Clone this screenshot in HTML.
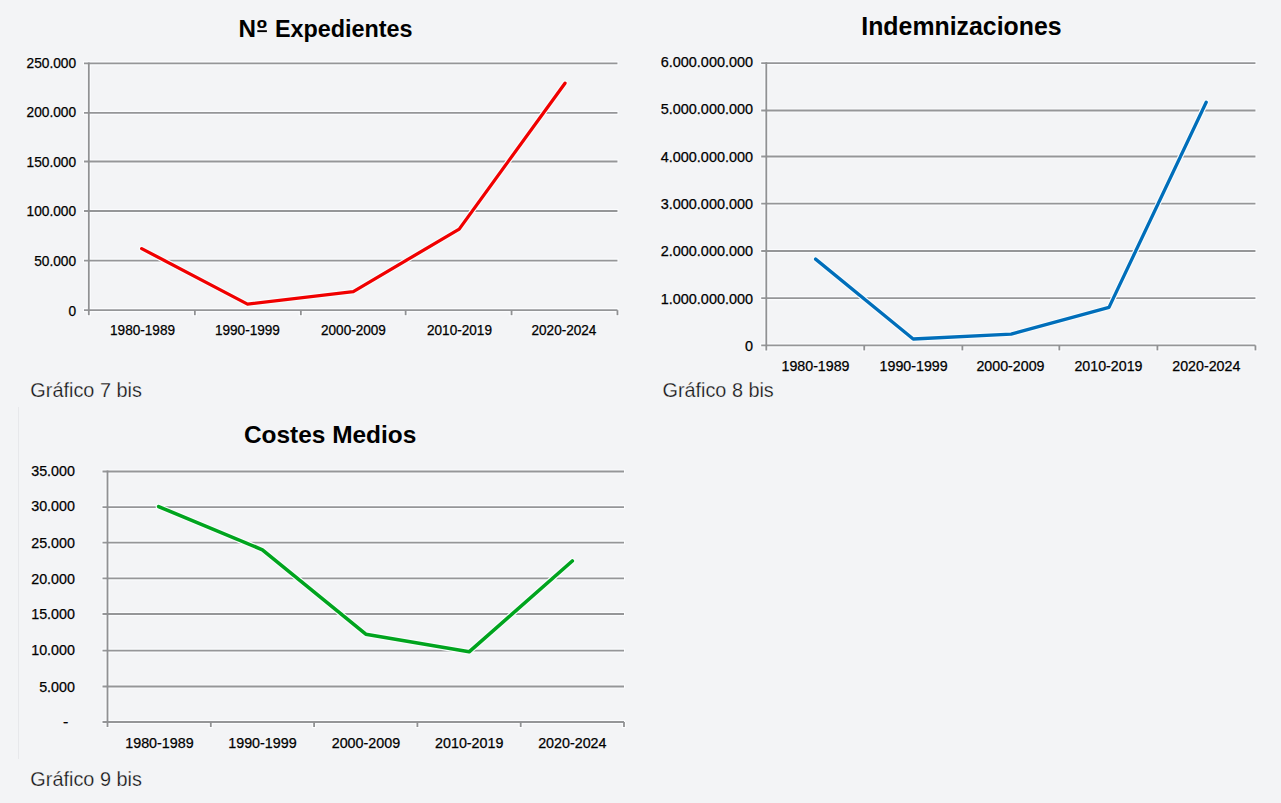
<!DOCTYPE html>
<html lang="es"><head><meta charset="utf-8"><title>Gráficos 7, 8 y 9 bis</title>
<style>
html,body{margin:0;padding:0;background:#f3f4f6;overflow:hidden}
svg{display:block;font-family:"Liberation Sans", sans-serif}
</style></head>
<body>
<svg width="1281" height="803" viewBox="0 0 1281 803">
<rect x="0" y="0" width="1281" height="803" fill="#f3f4f6"/>
<line x1="18.5" y1="407" x2="18.5" y2="759" stroke="#e7e8eb" stroke-width="1"/>
<line x1="83.00" y1="310.20" x2="618.45" y2="310.20" stroke="#fbfcfe" stroke-width="4.2"/>
<line x1="83.00" y1="260.55" x2="618.45" y2="260.55" stroke="#fbfcfe" stroke-width="4.2"/>
<line x1="83.00" y1="211.00" x2="618.45" y2="211.00" stroke="#fbfcfe" stroke-width="4.2"/>
<line x1="83.00" y1="161.50" x2="618.45" y2="161.50" stroke="#fbfcfe" stroke-width="4.2"/>
<line x1="83.00" y1="112.90" x2="618.45" y2="112.90" stroke="#fbfcfe" stroke-width="4.2"/>
<line x1="83.00" y1="63.40" x2="618.45" y2="63.40" stroke="#fbfcfe" stroke-width="4.2"/>
<line x1="88.80" y1="62.40" x2="88.80" y2="316.20" stroke="#fbfcfe" stroke-width="4.2"/>
<line x1="194.86" y1="310.20" x2="194.86" y2="316.20" stroke="#fbfcfe" stroke-width="4.2"/>
<line x1="300.86" y1="310.20" x2="300.86" y2="316.20" stroke="#fbfcfe" stroke-width="4.2"/>
<line x1="405.63" y1="310.20" x2="405.63" y2="316.20" stroke="#fbfcfe" stroke-width="4.2"/>
<line x1="511.56" y1="310.20" x2="511.56" y2="316.20" stroke="#fbfcfe" stroke-width="4.2"/>
<line x1="617.45" y1="310.20" x2="617.45" y2="316.20" stroke="#fbfcfe" stroke-width="4.2"/>
<line x1="84.00" y1="310.20" x2="617.45" y2="310.20" stroke="#959698" stroke-width="1.8"/>
<line x1="84.00" y1="260.55" x2="617.45" y2="260.55" stroke="#959698" stroke-width="1.8"/>
<line x1="84.00" y1="211.00" x2="617.45" y2="211.00" stroke="#959698" stroke-width="1.8"/>
<line x1="84.00" y1="161.50" x2="617.45" y2="161.50" stroke="#959698" stroke-width="1.8"/>
<line x1="84.00" y1="112.90" x2="617.45" y2="112.90" stroke="#959698" stroke-width="1.8"/>
<line x1="84.00" y1="63.40" x2="617.45" y2="63.40" stroke="#959698" stroke-width="1.8"/>
<text x="76.11" y="315.50" font-size="14.00" text-anchor="end" fill="#000" textLength="7.62" lengthAdjust="spacingAndGlyphs" stroke="#000" stroke-width="0.25">0</text>
<text x="76.11" y="265.85" font-size="14.00" text-anchor="end" fill="#000" textLength="41.90" lengthAdjust="spacingAndGlyphs" stroke="#000" stroke-width="0.25">50.000</text>
<text x="76.11" y="216.40" font-size="14.00" text-anchor="end" fill="#000" textLength="49.52" lengthAdjust="spacingAndGlyphs" stroke="#000" stroke-width="0.25">100.000</text>
<text x="76.11" y="166.70" font-size="14.00" text-anchor="end" fill="#000" textLength="49.52" lengthAdjust="spacingAndGlyphs" stroke="#000" stroke-width="0.25">150.000</text>
<text x="76.11" y="117.10" font-size="14.00" text-anchor="end" fill="#000" textLength="49.52" lengthAdjust="spacingAndGlyphs" stroke="#000" stroke-width="0.25">200.000</text>
<text x="76.11" y="67.70" font-size="14.00" text-anchor="end" fill="#000" textLength="49.52" lengthAdjust="spacingAndGlyphs" stroke="#000" stroke-width="0.25">250.000</text>
<line x1="88.80" y1="62.50" x2="88.80" y2="315.20" stroke="#909193" stroke-width="1.8"/>
<line x1="194.86" y1="310.20" x2="194.86" y2="315.20" stroke="#909193" stroke-width="1.8"/>
<line x1="300.86" y1="310.20" x2="300.86" y2="315.20" stroke="#909193" stroke-width="1.8"/>
<line x1="405.63" y1="310.20" x2="405.63" y2="315.20" stroke="#909193" stroke-width="1.8"/>
<line x1="511.56" y1="310.20" x2="511.56" y2="315.20" stroke="#909193" stroke-width="1.8"/>
<line x1="617.45" y1="310.20" x2="617.45" y2="315.20" stroke="#909193" stroke-width="1.8"/>
<text x="142.55" y="334.77" font-size="14.00" text-anchor="middle" fill="#000" textLength="64.95" lengthAdjust="spacingAndGlyphs" stroke="#000" stroke-width="0.25">1980-1989</text>
<text x="247.40" y="334.77" font-size="14.00" text-anchor="middle" fill="#000" textLength="64.95" lengthAdjust="spacingAndGlyphs" stroke="#000" stroke-width="0.25">1990-1999</text>
<text x="353.45" y="334.77" font-size="14.00" text-anchor="middle" fill="#000" textLength="64.95" lengthAdjust="spacingAndGlyphs" stroke="#000" stroke-width="0.25">2000-2009</text>
<text x="459.47" y="334.77" font-size="14.00" text-anchor="middle" fill="#000" textLength="64.95" lengthAdjust="spacingAndGlyphs" stroke="#000" stroke-width="0.25">2010-2019</text>
<text x="563.95" y="334.77" font-size="14.00" text-anchor="middle" fill="#000" textLength="64.95" lengthAdjust="spacingAndGlyphs" stroke="#000" stroke-width="0.25">2020-2024</text>
<polyline points="141.70,248.60 247.50,304.10 353.30,291.60 459.20,229.10 565.00,83.20" fill="none" stroke="#f9fcfd" stroke-width="5.5" stroke-linejoin="round" stroke-linecap="round"/>
<polyline points="141.70,248.60 247.50,304.10 353.30,291.60 459.20,229.10 565.00,83.20" fill="none" stroke="#f00000" stroke-width="3.3" stroke-linejoin="round" stroke-linecap="round"/>
<text x="238.60" y="36.90" font-size="24.60" font-weight="bold" fill="#000" textLength="17.50" lengthAdjust="spacingAndGlyphs">N</text>
<text x="256.85" y="36.90" font-size="24.60" font-weight="bold" fill="#000" textLength="10.17" lengthAdjust="spacingAndGlyphs">º</text>
<text x="274.91" y="36.90" font-size="24.60" font-weight="bold" fill="#000" textLength="137.69" lengthAdjust="spacingAndGlyphs">Expedientes</text>
<line x1="760.20" y1="345.40" x2="1256.45" y2="345.40" stroke="#fbfcfe" stroke-width="4.2"/>
<line x1="760.20" y1="298.20" x2="1256.45" y2="298.20" stroke="#fbfcfe" stroke-width="4.2"/>
<line x1="760.20" y1="251.00" x2="1256.45" y2="251.00" stroke="#fbfcfe" stroke-width="4.2"/>
<line x1="760.20" y1="203.60" x2="1256.45" y2="203.60" stroke="#fbfcfe" stroke-width="4.2"/>
<line x1="760.20" y1="156.50" x2="1256.45" y2="156.50" stroke="#fbfcfe" stroke-width="4.2"/>
<line x1="760.20" y1="110.50" x2="1256.45" y2="110.50" stroke="#fbfcfe" stroke-width="4.2"/>
<line x1="760.20" y1="63.05" x2="1256.45" y2="63.05" stroke="#fbfcfe" stroke-width="4.2"/>
<line x1="766.30" y1="62.05" x2="766.30" y2="351.40" stroke="#fbfcfe" stroke-width="4.2"/>
<line x1="864.23" y1="345.40" x2="864.23" y2="351.40" stroke="#fbfcfe" stroke-width="4.2"/>
<line x1="962.38" y1="345.40" x2="962.38" y2="351.40" stroke="#fbfcfe" stroke-width="4.2"/>
<line x1="1059.33" y1="345.40" x2="1059.33" y2="351.40" stroke="#fbfcfe" stroke-width="4.2"/>
<line x1="1157.41" y1="345.40" x2="1157.41" y2="351.40" stroke="#fbfcfe" stroke-width="4.2"/>
<line x1="1255.45" y1="345.40" x2="1255.45" y2="351.40" stroke="#fbfcfe" stroke-width="4.2"/>
<line x1="761.20" y1="345.40" x2="1255.45" y2="345.40" stroke="#959698" stroke-width="1.8"/>
<line x1="761.20" y1="298.20" x2="1255.45" y2="298.20" stroke="#959698" stroke-width="1.8"/>
<line x1="761.20" y1="251.00" x2="1255.45" y2="251.00" stroke="#959698" stroke-width="1.8"/>
<line x1="761.20" y1="203.60" x2="1255.45" y2="203.60" stroke="#959698" stroke-width="1.8"/>
<line x1="761.20" y1="156.50" x2="1255.45" y2="156.50" stroke="#959698" stroke-width="1.8"/>
<line x1="761.20" y1="110.50" x2="1255.45" y2="110.50" stroke="#959698" stroke-width="1.8"/>
<line x1="761.20" y1="63.05" x2="1255.45" y2="63.05" stroke="#959698" stroke-width="1.8"/>
<text x="753.08" y="350.65" font-size="14.40" text-anchor="end" fill="#000" textLength="8.03" lengthAdjust="spacingAndGlyphs" stroke="#000" stroke-width="0.25">0</text>
<text x="753.08" y="303.50" font-size="14.40" text-anchor="end" fill="#000" textLength="92.36" lengthAdjust="spacingAndGlyphs" stroke="#000" stroke-width="0.25">1.000.000.000</text>
<text x="753.08" y="256.20" font-size="14.40" text-anchor="end" fill="#000" textLength="92.36" lengthAdjust="spacingAndGlyphs" stroke="#000" stroke-width="0.25">2.000.000.000</text>
<text x="753.08" y="208.80" font-size="14.40" text-anchor="end" fill="#000" textLength="92.36" lengthAdjust="spacingAndGlyphs" stroke="#000" stroke-width="0.25">3.000.000.000</text>
<text x="753.08" y="161.70" font-size="14.40" text-anchor="end" fill="#000" textLength="92.36" lengthAdjust="spacingAndGlyphs" stroke="#000" stroke-width="0.25">4.000.000.000</text>
<text x="753.08" y="114.25" font-size="14.40" text-anchor="end" fill="#000" textLength="92.36" lengthAdjust="spacingAndGlyphs" stroke="#000" stroke-width="0.25">5.000.000.000</text>
<text x="753.08" y="67.05" font-size="14.40" text-anchor="end" fill="#000" textLength="92.36" lengthAdjust="spacingAndGlyphs" stroke="#000" stroke-width="0.25">6.000.000.000</text>
<line x1="766.30" y1="62.15" x2="766.30" y2="350.40" stroke="#909193" stroke-width="1.8"/>
<line x1="864.23" y1="345.40" x2="864.23" y2="350.40" stroke="#909193" stroke-width="1.8"/>
<line x1="962.38" y1="345.40" x2="962.38" y2="350.40" stroke="#909193" stroke-width="1.8"/>
<line x1="1059.33" y1="345.40" x2="1059.33" y2="350.40" stroke="#909193" stroke-width="1.8"/>
<line x1="1157.41" y1="345.40" x2="1157.41" y2="350.40" stroke="#909193" stroke-width="1.8"/>
<line x1="1255.45" y1="345.40" x2="1255.45" y2="350.40" stroke="#909193" stroke-width="1.8"/>
<text x="815.52" y="370.57" font-size="14.40" text-anchor="middle" fill="#000" textLength="68.05" lengthAdjust="spacingAndGlyphs" stroke="#000" stroke-width="0.25">1980-1989</text>
<text x="913.61" y="370.57" font-size="14.40" text-anchor="middle" fill="#000" textLength="68.05" lengthAdjust="spacingAndGlyphs" stroke="#000" stroke-width="0.25">1990-1999</text>
<text x="1010.47" y="370.57" font-size="14.40" text-anchor="middle" fill="#000" textLength="68.05" lengthAdjust="spacingAndGlyphs" stroke="#000" stroke-width="0.25">2000-2009</text>
<text x="1108.46" y="370.57" font-size="14.40" text-anchor="middle" fill="#000" textLength="68.05" lengthAdjust="spacingAndGlyphs" stroke="#000" stroke-width="0.25">2010-2019</text>
<text x="1206.32" y="370.57" font-size="14.40" text-anchor="middle" fill="#000" textLength="68.05" lengthAdjust="spacingAndGlyphs" stroke="#000" stroke-width="0.25">2020-2024</text>
<polyline points="815.60,259.10 913.20,339.00 1011.10,334.10 1109.00,307.40 1206.20,102.30" fill="none" stroke="#f9fcfd" stroke-width="5.5" stroke-linejoin="round" stroke-linecap="round"/>
<polyline points="815.60,259.10 913.20,339.00 1011.10,334.10 1109.00,307.40 1206.20,102.30" fill="none" stroke="#006eba" stroke-width="3.3" stroke-linejoin="round" stroke-linecap="round"/>
<text x="961.46" y="34.50" font-size="25.00" text-anchor="middle" font-weight="bold" fill="#000" textLength="200.33" lengthAdjust="spacingAndGlyphs">Indemnizaciones</text>
<line x1="101.50" y1="722.00" x2="625.00" y2="722.00" stroke="#fbfcfe" stroke-width="4.2"/>
<line x1="101.50" y1="686.50" x2="625.00" y2="686.50" stroke="#fbfcfe" stroke-width="4.2"/>
<line x1="101.50" y1="650.60" x2="625.00" y2="650.60" stroke="#fbfcfe" stroke-width="4.2"/>
<line x1="101.50" y1="614.00" x2="625.00" y2="614.00" stroke="#fbfcfe" stroke-width="4.2"/>
<line x1="101.50" y1="578.40" x2="625.00" y2="578.40" stroke="#fbfcfe" stroke-width="4.2"/>
<line x1="101.50" y1="542.60" x2="625.00" y2="542.60" stroke="#fbfcfe" stroke-width="4.2"/>
<line x1="101.50" y1="507.20" x2="625.00" y2="507.20" stroke="#fbfcfe" stroke-width="4.2"/>
<line x1="101.50" y1="471.50" x2="625.00" y2="471.50" stroke="#fbfcfe" stroke-width="4.2"/>
<line x1="107.50" y1="470.50" x2="107.50" y2="728.00" stroke="#fbfcfe" stroke-width="4.2"/>
<line x1="210.80" y1="722.00" x2="210.80" y2="728.00" stroke="#fbfcfe" stroke-width="4.2"/>
<line x1="314.10" y1="722.00" x2="314.10" y2="728.00" stroke="#fbfcfe" stroke-width="4.2"/>
<line x1="417.40" y1="722.00" x2="417.40" y2="728.00" stroke="#fbfcfe" stroke-width="4.2"/>
<line x1="520.70" y1="722.00" x2="520.70" y2="728.00" stroke="#fbfcfe" stroke-width="4.2"/>
<line x1="624.00" y1="722.00" x2="624.00" y2="728.00" stroke="#fbfcfe" stroke-width="4.2"/>
<line x1="102.50" y1="722.00" x2="624.00" y2="722.00" stroke="#959698" stroke-width="1.8"/>
<line x1="102.50" y1="686.50" x2="624.00" y2="686.50" stroke="#959698" stroke-width="1.8"/>
<line x1="102.50" y1="650.60" x2="624.00" y2="650.60" stroke="#959698" stroke-width="1.8"/>
<line x1="102.50" y1="614.00" x2="624.00" y2="614.00" stroke="#959698" stroke-width="1.8"/>
<line x1="102.50" y1="578.40" x2="624.00" y2="578.40" stroke="#959698" stroke-width="1.8"/>
<line x1="102.50" y1="542.60" x2="624.00" y2="542.60" stroke="#959698" stroke-width="1.8"/>
<line x1="102.50" y1="507.20" x2="624.00" y2="507.20" stroke="#959698" stroke-width="1.8"/>
<line x1="102.50" y1="471.50" x2="624.00" y2="471.50" stroke="#959698" stroke-width="1.8"/>
<text x="68.40" y="727.40" font-size="14.40" text-anchor="end" fill="#000" textLength="5.30" lengthAdjust="spacingAndGlyphs" stroke="#000" stroke-width="0.25">-</text>
<text x="74.86" y="691.65" font-size="14.40" text-anchor="end" fill="#000" textLength="35.73" lengthAdjust="spacingAndGlyphs" stroke="#000" stroke-width="0.25">5.000</text>
<text x="74.86" y="654.80" font-size="14.40" text-anchor="end" fill="#000" textLength="43.67" lengthAdjust="spacingAndGlyphs" stroke="#000" stroke-width="0.25">10.000</text>
<text x="74.86" y="619.15" font-size="14.40" text-anchor="end" fill="#000" textLength="43.67" lengthAdjust="spacingAndGlyphs" stroke="#000" stroke-width="0.25">15.000</text>
<text x="74.86" y="583.60" font-size="14.40" text-anchor="end" fill="#000" textLength="43.67" lengthAdjust="spacingAndGlyphs" stroke="#000" stroke-width="0.25">20.000</text>
<text x="74.86" y="547.85" font-size="14.40" text-anchor="end" fill="#000" textLength="43.67" lengthAdjust="spacingAndGlyphs" stroke="#000" stroke-width="0.25">25.000</text>
<text x="74.86" y="511.20" font-size="14.40" text-anchor="end" fill="#000" textLength="43.67" lengthAdjust="spacingAndGlyphs" stroke="#000" stroke-width="0.25">30.000</text>
<text x="74.86" y="475.65" font-size="14.40" text-anchor="end" fill="#000" textLength="43.67" lengthAdjust="spacingAndGlyphs" stroke="#000" stroke-width="0.25">35.000</text>
<line x1="107.50" y1="470.60" x2="107.50" y2="727.00" stroke="#909193" stroke-width="1.8"/>
<line x1="210.80" y1="722.00" x2="210.80" y2="727.00" stroke="#909193" stroke-width="1.8"/>
<line x1="314.10" y1="722.00" x2="314.10" y2="727.00" stroke="#909193" stroke-width="1.8"/>
<line x1="417.40" y1="722.00" x2="417.40" y2="727.00" stroke="#909193" stroke-width="1.8"/>
<line x1="520.70" y1="722.00" x2="520.70" y2="727.00" stroke="#909193" stroke-width="1.8"/>
<line x1="624.00" y1="722.00" x2="624.00" y2="727.00" stroke="#909193" stroke-width="1.8"/>
<text x="159.46" y="747.97" font-size="14.40" text-anchor="middle" fill="#000" textLength="68.37" lengthAdjust="spacingAndGlyphs" stroke="#000" stroke-width="0.25">1980-1989</text>
<text x="262.45" y="747.97" font-size="14.40" text-anchor="middle" fill="#000" textLength="68.37" lengthAdjust="spacingAndGlyphs" stroke="#000" stroke-width="0.25">1990-1999</text>
<text x="365.91" y="747.97" font-size="14.40" text-anchor="middle" fill="#000" textLength="68.37" lengthAdjust="spacingAndGlyphs" stroke="#000" stroke-width="0.25">2000-2009</text>
<text x="469.22" y="747.97" font-size="14.40" text-anchor="middle" fill="#000" textLength="68.37" lengthAdjust="spacingAndGlyphs" stroke="#000" stroke-width="0.25">2010-2019</text>
<text x="572.32" y="747.97" font-size="14.40" text-anchor="middle" fill="#000" textLength="68.37" lengthAdjust="spacingAndGlyphs" stroke="#000" stroke-width="0.25">2020-2024</text>
<polyline points="158.60,506.60 262.40,549.80 365.80,634.20 469.10,651.80 572.30,561.00" fill="none" stroke="#f9fcfd" stroke-width="5.800000000000001" stroke-linejoin="round" stroke-linecap="round"/>
<polyline points="158.60,506.60 262.40,549.80 365.80,634.20 469.10,651.80 572.30,561.00" fill="none" stroke="#00a41e" stroke-width="3.6" stroke-linejoin="round" stroke-linecap="round"/>
<text x="330.13" y="442.60" font-size="24.50" text-anchor="middle" font-weight="bold" fill="#000" textLength="172.44" lengthAdjust="spacingAndGlyphs">Costes Medios</text>
<text x="30.36" y="396.80" font-size="20.40" fill="#151515" textLength="111.47" lengthAdjust="spacingAndGlyphs" stroke="#f3f4f6" stroke-width="0.25">Gráfico 7 bis</text>
<text x="662.49" y="396.80" font-size="20.40" fill="#151515" textLength="111.29" lengthAdjust="spacingAndGlyphs" stroke="#f3f4f6" stroke-width="0.25">Gráfico 8 bis</text>
<text x="30.36" y="785.80" font-size="20.40" fill="#151515" textLength="111.49" lengthAdjust="spacingAndGlyphs" stroke="#f3f4f6" stroke-width="0.25">Gráfico 9 bis</text>
<rect x="257.30" y="30.20" width="9.60" height="1.90" fill="#000"/>
</svg>
</body></html>
